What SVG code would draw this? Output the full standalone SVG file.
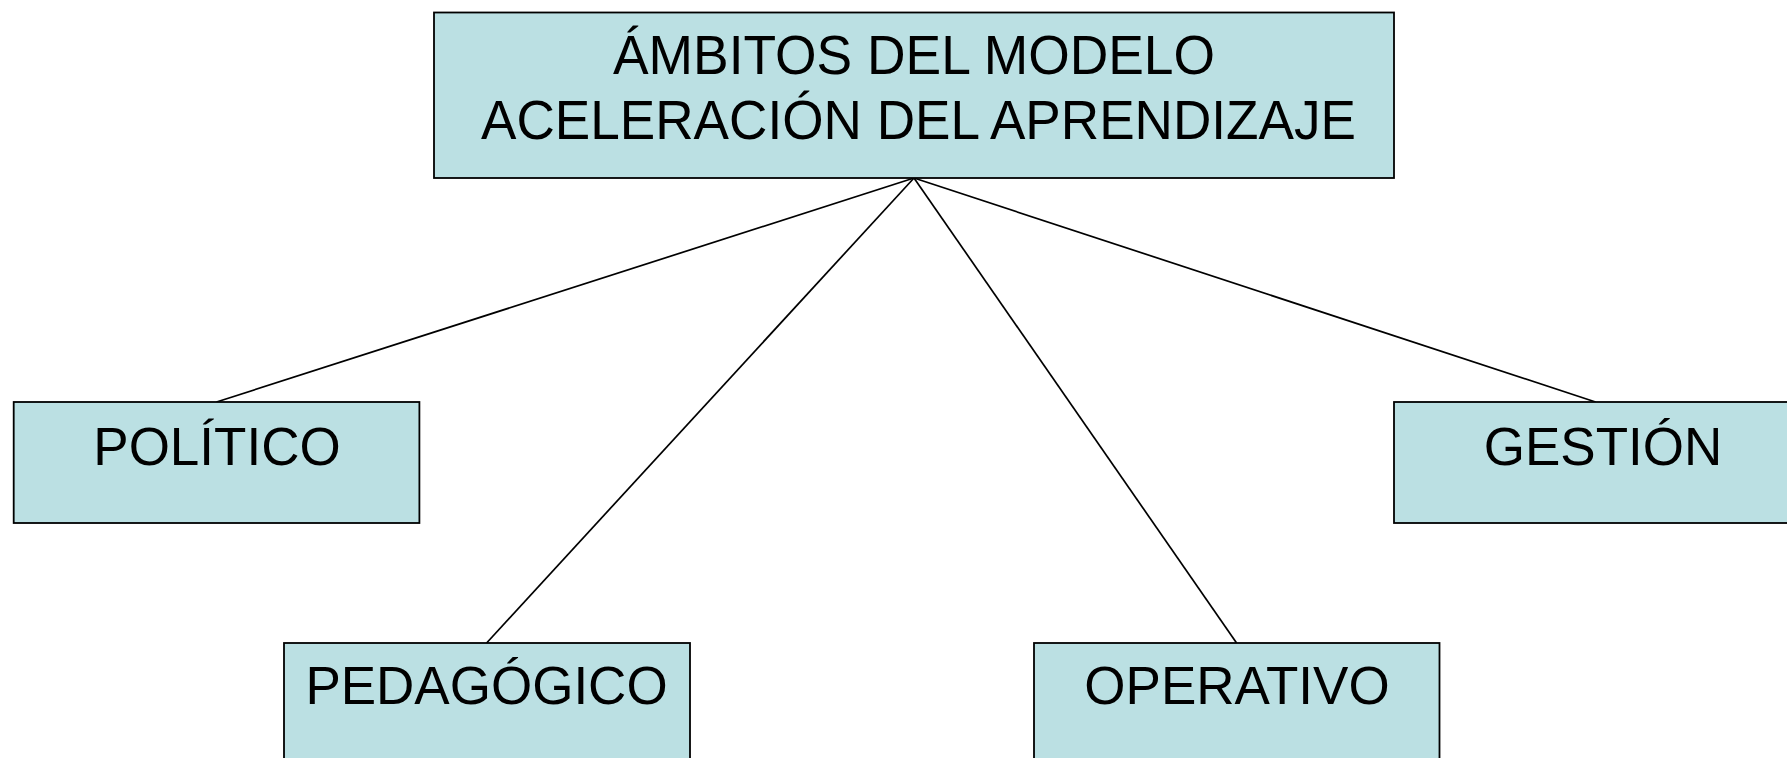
<svg xmlns="http://www.w3.org/2000/svg" width="1787" height="758" viewBox="0 0 1787 758">
<style>
.box{fill:#BBE0E3;stroke:#000;stroke-width:1.8}
.t{font-family:"Liberation Sans",Arial,sans-serif;font-size:53px;fill:#000;text-anchor:middle}
.tt{font-family:"Liberation Sans",Arial,sans-serif;font-size:55px;fill:#000}
.c{stroke:#000;stroke-width:1.7;fill:none}
</style>
<rect width="1787" height="758" fill="#fff"/>
<g id="connectors">
<line class="c" x1="914" y1="178" x2="216.5" y2="402"/>
<line class="c" x1="914" y1="178" x2="486.6" y2="643"/>
<line class="c" x1="914" y1="178" x2="1236.6" y2="643"/>
<line class="c" x1="914" y1="178" x2="1595.6" y2="402"/>
</g>
<g id="top">
<rect class="box" x="434" y="12.5" width="960" height="165.5"/>
<text class="tt" x="613" y="74" textLength="602" lengthAdjust="spacingAndGlyphs">ÁMBITOS DEL MODELO</text>
<text class="tt" x="481" y="139" textLength="875" lengthAdjust="spacingAndGlyphs">ACELERACIÓN DEL APRENDIZAJE</text>
</g>
<g id="politico">
<rect class="box" x="13.7" y="402" width="405.7" height="121"/>
<text class="t" x="217" y="465">POLÍTICO</text>
</g>
<g id="gestion">
<rect class="box" x="1394" y="402" width="420" height="121"/>
<text class="t" x="1603" y="465">GESTIÓN</text>
</g>
<g id="pedagogico">
<rect class="box" x="284" y="643" width="406" height="140"/>
<text class="t" x="486.5" y="704">PEDAGÓGICO</text>
</g>
<g id="operativo">
<rect class="box" x="1034" y="643" width="405.5" height="140"/>
<text class="t" x="1237" y="704">OPERATIVO</text>
</g>
</svg>
